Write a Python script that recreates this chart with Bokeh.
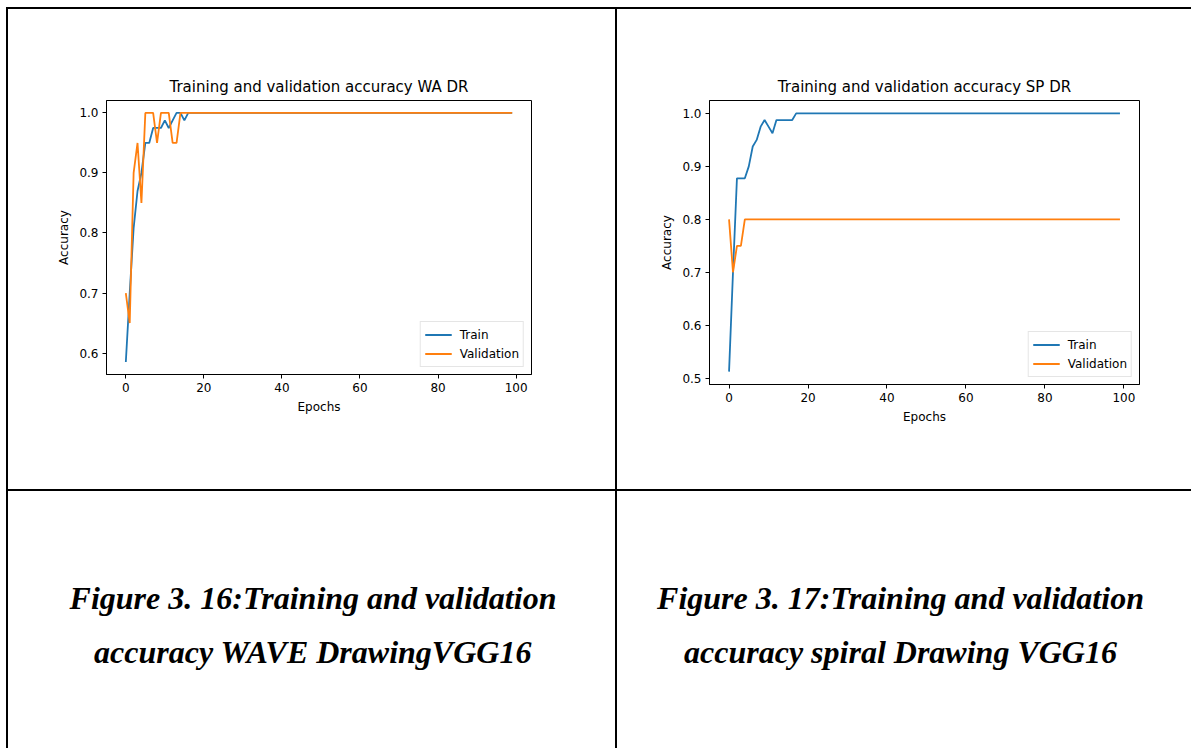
from bokeh.plotting import figure
from bokeh.layouts import column, row
from bokeh.models import Range1d, FixedTicker, PrintfTickFormatter, Div, Label, Spacer
from bokeh.embed import file_html
from bokeh.resources import INLINE

epochs = list(range(100))
x_ticks = [0, 20, 40, 60, 80, 100]

wa_train = [0.585, 0.70, 0.808, 0.87, 0.90, 0.95, 0.95, 0.975, 0.975, 0.975,
            0.9875, 0.975, 0.9875, 1.0, 1.0, 0.9875, 1.0, 1.0, 1.0, 1.0,
            1.0, 1.0, 1.0, 1.0, 1.0, 1.0, 1.0, 1.0, 1.0, 1.0,
            1.0, 1.0, 1.0, 1.0, 1.0, 1.0, 1.0, 1.0, 1.0, 1.0,
            1.0, 1.0, 1.0, 1.0, 1.0, 1.0, 1.0, 1.0, 1.0, 1.0,
            1.0, 1.0, 1.0, 1.0, 1.0, 1.0, 1.0, 1.0, 1.0, 1.0,
            1.0, 1.0, 1.0, 1.0, 1.0, 1.0, 1.0, 1.0, 1.0, 1.0,
            1.0, 1.0, 1.0, 1.0, 1.0, 1.0, 1.0, 1.0, 1.0, 1.0,
            1.0, 1.0, 1.0, 1.0, 1.0, 1.0, 1.0, 1.0, 1.0, 1.0,
            1.0, 1.0, 1.0, 1.0, 1.0, 1.0, 1.0, 1.0, 1.0, 1.0]
wa_val = [0.70, 0.65, 0.90, 0.95, 0.85, 1.0, 1.0, 1.0, 0.95, 1.0,
          1.0, 1.0, 0.95, 0.95, 1.0, 1.0, 1.0, 1.0, 1.0, 1.0,
          1.0, 1.0, 1.0, 1.0, 1.0, 1.0, 1.0, 1.0, 1.0, 1.0,
          1.0, 1.0, 1.0, 1.0, 1.0, 1.0, 1.0, 1.0, 1.0, 1.0,
          1.0, 1.0, 1.0, 1.0, 1.0, 1.0, 1.0, 1.0, 1.0, 1.0,
          1.0, 1.0, 1.0, 1.0, 1.0, 1.0, 1.0, 1.0, 1.0, 1.0,
          1.0, 1.0, 1.0, 1.0, 1.0, 1.0, 1.0, 1.0, 1.0, 1.0,
          1.0, 1.0, 1.0, 1.0, 1.0, 1.0, 1.0, 1.0, 1.0, 1.0,
          1.0, 1.0, 1.0, 1.0, 1.0, 1.0, 1.0, 1.0, 1.0, 1.0,
          1.0, 1.0, 1.0, 1.0, 1.0, 1.0, 1.0, 1.0, 1.0, 1.0]
sp_train = [0.5125, 0.70, 0.8775, 0.8775, 0.8775, 0.90, 0.9375, 0.95, 0.975, 0.9875,
            0.975, 0.9625, 0.9875, 0.9875, 0.9875, 0.9875, 0.9875, 1.0, 1.0, 1.0,
            1.0, 1.0, 1.0, 1.0, 1.0, 1.0, 1.0, 1.0, 1.0, 1.0,
            1.0, 1.0, 1.0, 1.0, 1.0, 1.0, 1.0, 1.0, 1.0, 1.0,
            1.0, 1.0, 1.0, 1.0, 1.0, 1.0, 1.0, 1.0, 1.0, 1.0,
            1.0, 1.0, 1.0, 1.0, 1.0, 1.0, 1.0, 1.0, 1.0, 1.0,
            1.0, 1.0, 1.0, 1.0, 1.0, 1.0, 1.0, 1.0, 1.0, 1.0,
            1.0, 1.0, 1.0, 1.0, 1.0, 1.0, 1.0, 1.0, 1.0, 1.0,
            1.0, 1.0, 1.0, 1.0, 1.0, 1.0, 1.0, 1.0, 1.0, 1.0,
            1.0, 1.0, 1.0, 1.0, 1.0, 1.0, 1.0, 1.0, 1.0, 1.0]
sp_val = [0.80, 0.70, 0.75, 0.75, 0.80, 0.80, 0.80, 0.80, 0.80, 0.80,
          0.80, 0.80, 0.80, 0.80, 0.80, 0.80, 0.80, 0.80, 0.80, 0.80,
          0.80, 0.80, 0.80, 0.80, 0.80, 0.80, 0.80, 0.80, 0.80, 0.80,
          0.80, 0.80, 0.80, 0.80, 0.80, 0.80, 0.80, 0.80, 0.80, 0.80,
          0.80, 0.80, 0.80, 0.80, 0.80, 0.80, 0.80, 0.80, 0.80, 0.80,
          0.80, 0.80, 0.80, 0.80, 0.80, 0.80, 0.80, 0.80, 0.80, 0.80,
          0.80, 0.80, 0.80, 0.80, 0.80, 0.80, 0.80, 0.80, 0.80, 0.80,
          0.80, 0.80, 0.80, 0.80, 0.80, 0.80, 0.80, 0.80, 0.80, 0.80,
          0.80, 0.80, 0.80, 0.80, 0.80, 0.80, 0.80, 0.80, 0.80, 0.80,
          0.80, 0.80, 0.80, 0.80, 0.80, 0.80, 0.80, 0.80, 0.80, 0.80]

titles = ["Training and validation accuracy WA DR", "Training and validation accuracy SP DR"]
series_names = ["Train", "Validation"]
captions_left = ["Figure 3. 16:Training and validation", "accuracy WAVE DrawingVGG16"]
captions_right = ["Figure 3. 17:Training and validation", "accuracy spiral Drawing VGG16"]

BLUE = "#1f77b4"
ORANGE = "#ff7f0e"
FONT = "DejaVu Sans"


def padded(lo, hi, frac=0.05):
    d = (hi - lo) * frac
    return lo - d, hi + d


def chart(title, train, val, fw, fh, bl, br, bt, bb):
    x0, x1 = padded(min(epochs), max(epochs))
    y0, y1 = padded(min(train + val), max(train + val))
    p = figure(frame_width=fw, frame_height=fh, min_border_left=bl, min_border_right=br,
               min_border_top=bt, min_border_bottom=bb,
               x_range=Range1d(x0, x1), y_range=Range1d(y0, y1),
               output_backend="svg", toolbar_location=None, title=title)
    p.title.text_font = FONT
    p.title.text_font_size = "15px"
    p.title.text_font_style = "normal"
    p.title.align = "center"
    p.title.text_color = "#000000"
    p.grid.visible = False
    p.outline_line_color = "#000000"
    p.outline_line_width = 1
    p.background_fill_color = "white"
    p.border_fill_color = "white"

    p.line(epochs, train, color=BLUE, line_width=1.8, legend_label=series_names[0])
    p.line(epochs, val, color=ORANGE, line_width=1.8, legend_label=series_names[1])

    p.xaxis.ticker = FixedTicker(ticks=x_ticks)
    p.xaxis.axis_label = "Epochs"
    p.yaxis.axis_label = "Accuracy"
    p.yaxis.formatter = PrintfTickFormatter(format="%.1f")
    for ax in (p.xaxis[0], p.yaxis[0]):
        ax.axis_line_color = "#000000"
        ax.axis_line_width = 1
        ax.major_tick_line_color = "#000000"
        ax.major_tick_out = 4
        ax.major_tick_in = 0
        ax.minor_tick_out = 0
        ax.minor_tick_in = 0
        ax.major_label_text_font = FONT
        ax.major_label_text_font_size = "12px"
        ax.major_label_text_color = "#000000"
        ax.axis_label_text_font = FONT
        ax.axis_label_text_font_size = "12px"
        ax.axis_label_text_font_style = "normal"
        ax.axis_label_text_color = "#000000"
        ax.axis_label_standoff = 5
        ax.major_label_standoff = 4

    lg = p.legend[0]
    lg.location = "bottom_right"
    lg.label_text_font = FONT
    lg.label_text_font_size = "12px"
    lg.label_text_color = "#000000"
    lg.border_line_color = "#cccccc"
    lg.background_fill_alpha = 0.8
    lg.glyph_width = 27
    lg.glyph_height = 17
    lg.label_height = 17
    lg.label_standoff = 8
    lg.padding = 4
    lg.spacing = 2
    lg.margin = 7
    return p


def caption(lines, w, h, cx):
    p = figure(width=w, height=h, x_range=Range1d(0, w), y_range=Range1d(0, h),
               output_backend="svg", toolbar_location=None,
               x_axis_type=None, y_axis_type=None, min_border=0)
    p.outline_line_color = None
    p.grid.visible = False
    ys = [h - 106, h - 160]
    for t, y in zip(lines, ys):
        p.add_layout(Label(x=cx, y=y, text=t, text_align="center",
                           text_baseline="alphabetic", text_font="Liberation Serif",
                           text_font_style="bold italic", text_font_size="32px",
                           text_color="#000000"))
    return p


def line_div(w, h):
    return Div(width=w, height=h, margin=0, styles={"background-color": "#000000"})


LEFT_W, RIGHT_W = 607, 574
TOP_H, BOT_H = 480, 257
TABLE_W = 2 + LEFT_W + 2 + RIGHT_W

pL = chart(titles[0], wa_train, wa_val, 425, 274, 98, 84, 90, 116)
pR = chart(titles[1], sp_train, sp_val, 430, 284, 92, 52, 91, 105)
cL = caption(captions_left, LEFT_W, BOT_H, LEFT_W / 2 + 1)
cR = caption(captions_right, RIGHT_W, BOT_H, RIGHT_W / 2 - 4)

table = column(
    line_div(TABLE_W, 2),
    row(line_div(2, TOP_H), pL, line_div(2, TOP_H), pR, spacing=0),
    line_div(TABLE_W, 2),
    row(line_div(2, BOT_H), cL, line_div(2, BOT_H), cR, spacing=0),
    spacing=0,
)

layout = column(Spacer(height=7, width=10), row(Spacer(width=6, height=10), table, spacing=0), spacing=0)

open("out.html", "w").write(file_html(layout, INLINE))
